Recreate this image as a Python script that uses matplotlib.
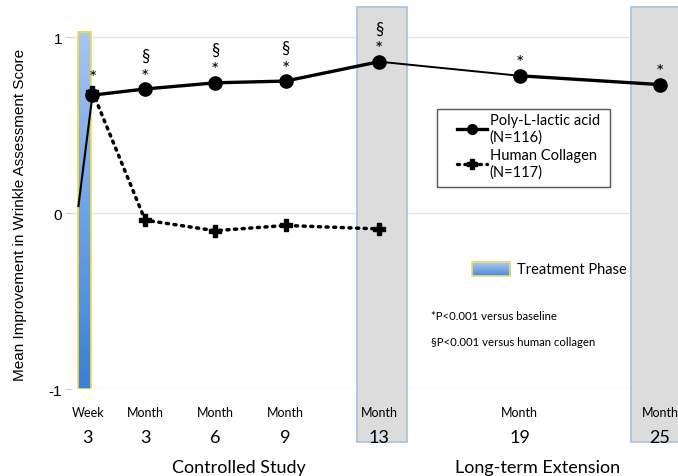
import numpy as np
import matplotlib.pyplot as plt
from matplotlib.patches import Rectangle
from matplotlib.colors import LinearSegmentedColormap

# time in months, week 3 ~ 0.75 month
months = [0.75, 3, 6, 9, 13, 19, 25]
plla = [0.67, 0.705, 0.74, 0.75, 0.86, 0.78, 0.73]
coll_months = [0.75, 3, 6, 9, 13]
collagen = [0.69, -0.04, -0.10, -0.07, -0.09]
start_x = [0.15, 0.75]
start_y = [0.04, 0.67]

tick_top = ['Week', 'Month', 'Month', 'Month', 'Month', 'Month', 'Month']
tick_num = ['3', '3', '6', '9', '13', '19', '25']
star = [True] * 7
section = [False, True, True, True, True, False, False]
seg_lw = [2.4, 2.4, 2.4, 2.4, 1.4, 2.4]

sans = ['Lato', 'DejaVu Sans']

fig = plt.figure(figsize=(6.78, 4.77), dpi=100)
ax = fig.add_axes([0.106, 0.182, 0.894, 0.801])

for s in ax.spines.values():
    s.set_visible(False)
for v in [1, 0, -1]:
    ax.axhline(v, color='#e4e4e4', lw=1, zorder=0)
ax.set_yticks([1, 0, -1])
ax.set_yticklabels(['1', '0', '-1'], fontsize=11, family='Liberation Sans')
ax.tick_params(axis='y', length=4, color='#cccccc', pad=3)
ax.set_xticks([])
ax.set_ylabel('Mean Improvement in Wrinkle Assessment Score', fontsize=11,
              family='Liberation Sans')
ax.yaxis.set_label_coords(-0.074, 0.458)

# shaded phases
for x0, x1 in [(12.05, 14.2), (23.76, 26.0)]:
    ax.add_patch(Rectangle((x0, -1.3), x1 - x0, 2.47, facecolor='#dcdcdc',
                           edgecolor='#a8c0dc', lw=1.2, clip_on=False, zorder=1))

grad = np.linspace(0, 1, 100).reshape(-1, 1)
ax.imshow(grad, cmap=LinearSegmentedColormap.from_list(
    'b', ['#a6c6f0', '#3b7fd6']), extent=(0.13, 0.68, -1.0, 1.03),
    aspect='auto', origin='upper', zorder=1)
ax.add_patch(Rectangle((0.13, -1.0), 0.55, 2.03, fill=False,
                       edgecolor='#f0e040', lw=1.2, zorder=2))

ax.imshow(grad, cmap=LinearSegmentedColormap.from_list(
    'b2', ['#b4d0f2', '#4a88d8']), extent=(16.97, 18.6, -0.36, -0.28),
    aspect='auto', origin='upper', zorder=1, clip_on=False)
ax.add_patch(Rectangle((16.97, -0.36), 1.63, 0.08, fill=False,
                       edgecolor='#e8e070', lw=1.2, zorder=2, clip_on=False))
ax.set_xlim(-0.13, 25.77)
ax.set_ylim(-1, 1.17)

ax.plot(start_x, start_y, color='black', lw=1.5, zorder=3)
for i in range(len(months) - 1):
    ax.plot(months[i:i + 2], plla[i:i + 2], color='black', lw=seg_lw[i],
            solid_capstyle='round', zorder=5)
l1, = ax.plot(months, plla, color='black', lw=0, marker='o', ms=9.5,
              zorder=6)
l2, = ax.plot(coll_months, collagen, color='black', lw=2.5,
              linestyle=(0, (0.6, 1.6)), dash_capstyle='round', marker='P',
              ms=9, zorder=4)

for i, m in enumerate(months):
    y = plla[i] + 0.073
    if i == 0:
        y = 0.77
    if star[i]:
        ax.text(m, y, '*', ha='center', va='center', fontsize=14, family=sans)
    if section[i]:
        ax.text(m, y + 0.115, '§', ha='center', va='center', fontsize=12,
                family=sans)

# legend with manual frame
h1, = ax.plot([], [], color='black', lw=2.4, marker='o', ms=7)
h2, = ax.plot([], [], color='black', lw=2.4, linestyle=(0, (0.6, 1.6)),
              dash_capstyle='round', marker='P', ms=7)
ax.legend(handles=[h1, h2],
          labels=['Poly-L-lactic acid\n(N=116)', 'Human Collagen\n(N=117)'],
          loc='upper left', bbox_to_anchor=(0.635, 0.7225), frameon=False,
          handlelength=2.1, handletextpad=0.15, borderpad=0, borderaxespad=0,
          labelspacing=0.3, prop={'family': 'Lato', 'size': 10.5})
ax.add_patch(Rectangle((0.602, 0.529), 0.2855, 0.204, transform=ax.transAxes,
                       fill=False, edgecolor='#555555', lw=1, zorder=7))

ax.text(18.9, -0.32, 'Treatment Phase', fontsize=10.5, family=sans,
        va='center')
ax.text(15.2, -0.58, '*P<0.001 versus baseline', fontsize=8.2, family=sans,
        va='center')
ax.text(15.2, -0.73, '§P<0.001 versus human collagen', fontsize=8.2,
        family=sans, va='center')

for i, m in enumerate(months):
    ax.text(m - (0.2 if i == 0 else 0), -1.13, tick_top[i], ha='center',
            va='center', fontsize=9, family=sans, clip_on=False)
    ax.text(m - (0.2 if i == 0 else 0), -1.27, tick_num[i], ha='center',
            va='center', fontsize=13, family=sans, clip_on=False)

ax.text(7.0, -1.44, 'Controlled Study', ha='center', va='center',
        fontsize=13, family=sans, clip_on=False)
ax.text(19.75, -1.44, 'Long-term Extension', ha='center', va='center',
        fontsize=13, family=sans, clip_on=False)

fig.savefig('out.png', dpi=100)
